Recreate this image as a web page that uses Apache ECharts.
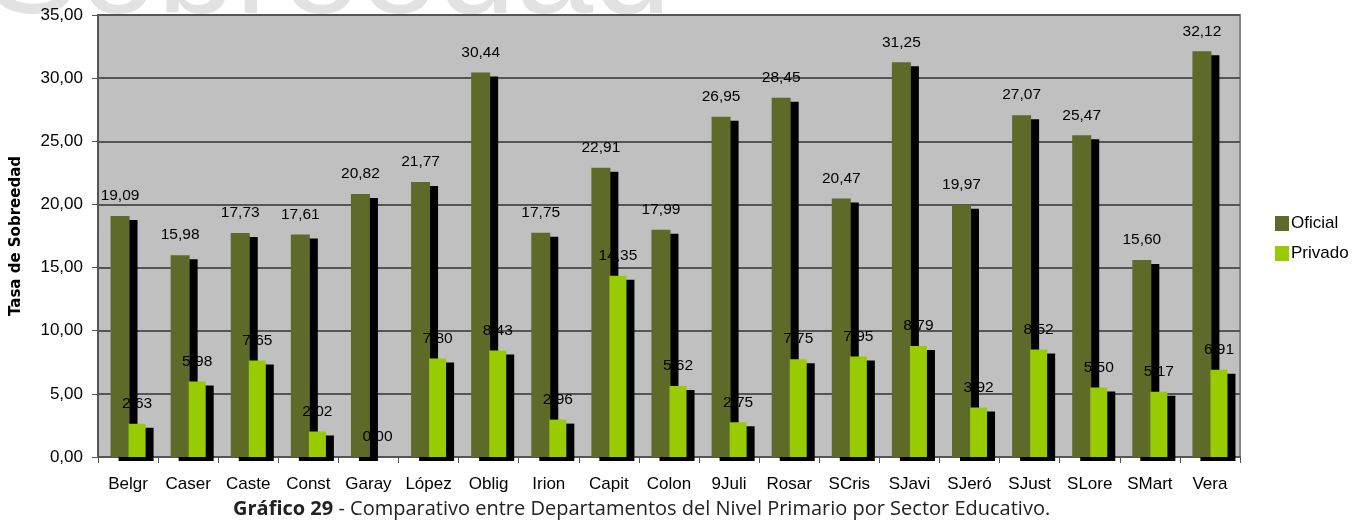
<!DOCTYPE html>
<html>
<head>
<meta charset="utf-8">
<script src="https://cdn.jsdelivr.net/npm/echarts@6/dist/echarts.min.js"></script>
<style>
  html, body { margin: 0; padding: 0; background: #fff; }
  #chart { width: 1365px; height: 522px; }
</style>
</head>
<body>
<div id="chart"></div>
<script>
const departamentos = ["Belgr", "Caser", "Caste", "Const", "Garay", "López", "Oblig", "Irion", "Capit", "Colon",
    "9Juli", "Rosar", "SCris", "SJavi", "SJeró", "SJust", "SLore", "SMart", "Vera"];
const oficial = [19.09, 15.98, 17.73, 17.61, 20.82, 21.77, 30.44, 17.75, 22.91, 17.99,
    26.95, 28.45, 20.47, 31.25, 19.97, 27.07, 25.47, 15.60, 32.12];
const privado = [2.63, 5.98, 7.65, 2.02, 0.00, 7.80, 8.43, 2.96, 14.35, 5.62,
    2.75, 7.75, 7.95, 8.79, 3.92, 8.52, 5.50, 5.17, 6.91];

const fmt = v => v.toFixed(2).replace(".", ",");
const font = "'Liberation Sans', Arial, sans-serif";

const barShadow = {
    shadowColor: "#000",
    shadowBlur: 0,
    shadowOffsetX: 8,
    shadowOffsetY: 4
};

const labelStyle = {
    show: true,
    position: "top",
    distance: 12,
    color: "#000",
    fontFamily: font,
    fontSize: 15.5,
    formatter: p => fmt(p.value)
};

let myChart = echarts.init(document.getElementById("chart"));
myChart.setOption({
    animation: false,
    graphic: [
        {
            type: "text",
            z: -10,
            left: -14,
            top: -96,
            style: {
                text: "Sobreedad",
                fontFamily: font,
                fontSize: 140,
                fill: "#e2e2e2"
            }
        }
    ],
    title: {
        text: "{b|Gráfico 29} - Comparativo entre Departamentos del Nivel Primario por Sector Educativo.",
        left: 228,
        bottom: -2,
        textStyle: {
            fontFamily: "'Open Sans', sans-serif",
            fontSize: 20,
            fontWeight: "normal",
            color: "#222",
            rich: {
                b: {
                    fontFamily: "'Open Sans', sans-serif",
                    fontSize: 20,
                    fontWeight: "bold",
                    color: "#222"
                }
            }
        }
    },
    legend: {
        orient: "vertical",
        left: 1270,
        top: 210,
        itemWidth: 14,
        itemHeight: 15,
        itemGap: 13,
        icon: "rect",
        data: ["Oficial", "Privado"],
        itemStyle: { shadowColor: "transparent", shadowOffsetX: 0, shadowOffsetY: 0 },
        textStyle: { fontFamily: font, fontSize: 17, color: "#000", padding: [0, 0, 0, -3] }
    },
    grid: {
        left: 98,
        right: 125,
        top: 15,
        bottom: 65,
        show: true,
        backgroundColor: "#c0c0c0",
        borderColor: "#888",
        borderWidth: 2
    },
    xAxis: {
        type: "category",
        data: departamentos,
        axisLine: { lineStyle: { color: "#555", width: 2 } },
        axisTick: { show: true, length: 6, lineStyle: { color: "#555" } },
        axisLabel: { color: "#000", fontFamily: font, fontSize: 17, margin: 19, interval: 0 }
    },
    yAxis: {
        type: "value",
        min: 0,
        max: 35,
        interval: 5,
        name: "Tasa de Sobreedad",
        nameLocation: "middle",
        nameGap: 74,
        nameTextStyle: { fontFamily: "'DejaVu Sans', sans-serif", fontSize: 15, fontWeight: "bold", color: "#000" },
        axisLine: { show: true, lineStyle: { color: "#555", width: 2 } },
        axisTick: { show: true, length: 6, lineStyle: { color: "#555" } },
        axisLabel: { color: "#000", fontFamily: font, fontSize: 17, margin: 15, formatter: v => fmt(v) },
        splitLine: { lineStyle: { color: "#555", width: 2 } }
    },
    series: [
        {
            name: "Oficial",
            type: "bar",
            data: oficial,
            barWidth: 19,
            barGap: "-5%",
            itemStyle: Object.assign({ color: "#5e6a27" }, barShadow),
            label: labelStyle
        },
        {
            name: "Privado",
            type: "bar",
            data: privado,
            barWidth: 17,
            itemStyle: Object.assign({ color: "#99cc00" }, barShadow),
            label: labelStyle
        }
    ]
});
</script>
</body>
</html>
